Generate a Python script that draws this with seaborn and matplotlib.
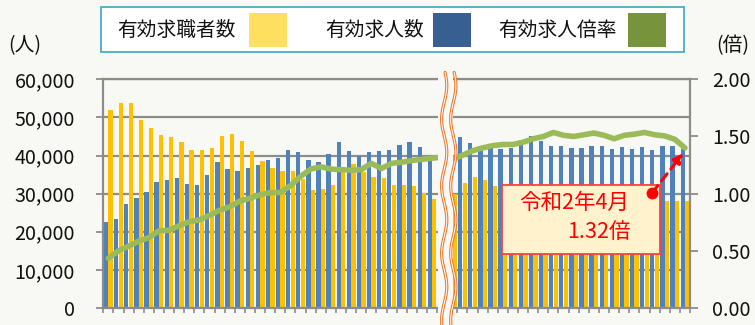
import numpy as np
import pandas as pd
import matplotlib
matplotlib.use("Agg")
import matplotlib.pyplot as plt
import matplotlib.transforms as mtransforms
from matplotlib.patches import Rectangle
from matplotlib.ticker import FuncFormatter, FixedLocator, MultipleLocator
import seaborn as sns

# ---------------- data ----------------
nan = np.nan
# 有効求職者数 (job seekers)
jobseekers = [51900, 53700, 53900, 49300, 47300, 45400, 44800, 43500, 41500, 41500,
              42100, 45000, 45600, 43800, 41300, 38600, 36800, 35900, 36000, 33800,
              31000, 31200, 32400, 35800, 37700, 35600, 34300, 34000, 32400, 32300,
              32000, 30300, 28600,
              nan, 29800,
              32900, 34300, 33600, 32000, 31800, 31200, 30500, 30900, 30400, 29900,
              29500, 29600, 30100, 29700, 29300, 29000, 29400, 29100, 28800, 28500,
              28100, 28100, 28100]
# 有効求人数 (job openings)
openings = [22600, 23300, 27300, 28900, 30500, 33100, 33600, 34200, 32500, 32300,
            34900, 38200, 36400, 35900, 36600, 37400, 38700, 39400, 41400, 40800,
            38800, 38400, 40400, 43500, 41200, 39800, 40800, 41200, 41400, 42700,
            43500, 42200, 39500,
            nan, nan,
            44900, 43400, 42600, 42200, 41800, 42000, 44000, 45200, 43800, 42500,
            42500, 42100, 41900, 42500, 42600, 41700, 42200, 41700, 42200, 41400,
            42600, 42600, 41600]
# 有効求人倍率 (ratio)
ratio = [0.435, 0.50, 0.54, 0.585, 0.615, 0.675, 0.68, 0.72, 0.755, 0.77,
         0.81, 0.855, 0.885, 0.935, 0.96, 0.99, 1.01, 1.01, 1.07, 1.15,
         1.215, 1.235, 1.215, 1.21, 1.205, 1.21, 1.265, 1.22, 1.265, 1.275,
         1.29, 1.30, 1.31,
         1.32, 1.30,
         1.335, 1.375, 1.40, 1.42, 1.43, 1.43, 1.45, 1.48, 1.50, 1.535,
         1.51, 1.50, 1.515, 1.53, 1.51, 1.48, 1.51, 1.52, 1.535, 1.515,
         1.505, 1.475, 1.40]

series_names = ["有効求職者数", "有効求人数", "有効求人倍率"]
left_ticks = [0, 10000, 20000, 30000, 40000, 50000, 60000]
right_ticks = [0.0, 0.5, 1.0, 1.5, 2.0]
note_lines = ["令和2年4月", "1.32倍"]

# ---------------- style ----------------
BG = "#F8F8F4"
GRID = "#8C8C8C"
YELLOW = "#FFC000"
BLUE = "#4F81BD"
GREEN = "#9BBB59"

sns.set_theme(style="white")
plt.rcParams["font.family"] = ["Noto Sans CJK JP", "DejaVu Sans"]
plt.rcParams["axes.unicode_minus"] = False

W, H = 755, 325
fig = plt.figure(figsize=(W / 100, H / 100), dpi=100, facecolor=BG)
ax = fig.add_axes([103.3 / W, (H - 308) / H, (690 - 103.3) / W, (308 - 79.3) / H])
ax.set_facecolor(BG)

n = len(ratio)
idx = np.arange(n)
df = pd.DataFrame({
    "pos": np.concatenate([idx, idx]),
    "value": list(openings) + list(jobseekers),
    "series": [series_names[1]] * n + [series_names[0]] * n,
}).dropna()

sns.barplot(data=df, x="pos", y="value", hue="series", order=list(idx),
            hue_order=[series_names[1], series_names[0]],
            palette={series_names[1]: BLUE, series_names[0]: YELLOW},
            width=0.9, gap=0.05, dodge=True, errorbar=None, legend=False,
            saturation=1, linewidth=0, ax=ax)

ax2 = ax.twinx()
sns.lineplot(x=idx, y=ratio, ax=ax2, color=GREEN, linewidth=4.0, sort=False,
             solid_capstyle="round", solid_joinstyle="round", zorder=5)

# axes limits / ticks
ax.set_ylim(0, 60000)
ax2.set_ylim(0, 2)
ax.set_xlim(-0.5, n - 0.5)
ax.set_xlabel("")
ax.set_ylabel("")
ax2.set_ylabel("")
ax.set_yticks(left_ticks)
ax2.set_yticks(right_ticks)
ax.yaxis.set_major_formatter(FuncFormatter(lambda v, p: f"{int(v):,}"))
ax2.yaxis.set_major_formatter(FuncFormatter(lambda v, p: f"{v:.2f}"))
ax.set_xticks([])
ax.xaxis.set_minor_locator(FixedLocator(np.arange(-0.5, n, 1.0)))
ax.tick_params(axis="x", which="minor", length=3.6, width=1.2, color=GRID,
               direction="out", bottom=True)
ax.tick_params(axis="x", which="major", length=0, labelbottom=False)
ax.tick_params(axis="y", which="major", length=4.8, width=1.3, color=GRID,
               direction="out", pad=15.5, labelsize=14.2, labelcolor="#111111", left=True)
ax2.tick_params(axis="y", which="major", length=5.5, width=1.3, color=GRID,
                direction="out", pad=10.5, labelsize=14.2, labelcolor="#111111", right=True)

ax.set_axisbelow(True)
ax.yaxis.grid(True, color=GRID, linewidth=1.6)
for s in ["left", "right", "bottom", "top"]:
    ax.spines[s].set_visible(True)
    ax.spines[s].set_color(GRID)
    ax.spines[s].set_linewidth(1.6)
for s in ax2.spines.values():
    s.set_visible(False)

# ---------------- axis break ----------------
trans = mtransforms.blended_transform_factory(ax2.transData, ax2.transAxes)
brk_left, brk_right = 32.6, 34.1
ax2.add_patch(Rectangle((brk_left, -0.09), brk_right - brk_left, 1.13,
                        transform=trans, facecolor=BG, edgecolor="none",
                        clip_on=False, zorder=20))
t = np.linspace(-0.08, 1.03, 500)
per = 67 / 228.7
amp = 2.6 / 10.116
for xc in (33.2, 34.1):
    xs = xc + amp * np.sin(2 * np.pi * (t - 0.02) / per)
    ax2.plot(xs, t, transform=trans, color="#ED7D31", lw=2.3, clip_on=False, zorder=21)
    ax2.plot(xs, t, transform=trans, color="white", lw=0.7, clip_on=False, zorder=22)
ax.set_xlim(-0.5, n - 0.5)

# ---------------- callout ----------------
ax2.add_patch(Rectangle((38.88, 0.472), 54.53 - 38.88, 1.076 - 0.472,
                        facecolor="#FFF2CC", edgecolor="#FF4040", lw=1.3, zorder=30))
ax2.text(51.47, 0.918, note_lines[0], ha="right", va="center", color="#FF0000",
         fontsize=15.5, zorder=31)
ax2.text(51.6, 0.665, note_lines[1], ha="right", va="center", color="#FF0000",
         fontsize=15.5, zorder=31)
ax2.plot([53.74], [1.006], "o", color="#FF0000", markersize=7.5, zorder=32)
ax2.annotate("", xy=(56.83, 1.353), xytext=(53.74, 1.006), zorder=32,
             arrowprops=dict(arrowstyle="-|>", color="#FF0000", lw=2.2,
                             linestyle=(0, (3, 2)), mutation_scale=14,
                             shrinkA=0, shrinkB=0))

# ---------------- unit labels ----------------
fig.text(25 / W, 1 - 46 / H, "(人)", ha="center", va="center", fontsize=14.2, color="#111111")
fig.text(733 / W, 1 - 46 / H, "(倍)", ha="center", va="center", fontsize=14.2, color="#111111")

# ---------------- legend (label first, swatch after) ----------------
fig.add_artist(Rectangle((101 / W, 1 - 52 / H), 583 / W, 45 / H, transform=fig.transFigure,
                         facecolor="white", edgecolor="#4BACC6", lw=1.3))
leg_items = [(series_names[0], 117, 249, "#FFDF5F"),
             (series_names[1], 325, 433, "#375F92"),
             (series_names[2], 498, 628, "#77933C")]
for label, tx, sx, col in leg_items:
    fig.text(tx / W, 1 - 30 / H, label, ha="left", va="center", fontsize=14.2, color="#111111")
    fig.add_artist(Rectangle((sx / W, 1 - 47 / H), 38 / W, 34 / H, transform=fig.transFigure,
                             facecolor=col, edgecolor="none"))

fig.savefig("out.png", dpi=100, facecolor=BG)
